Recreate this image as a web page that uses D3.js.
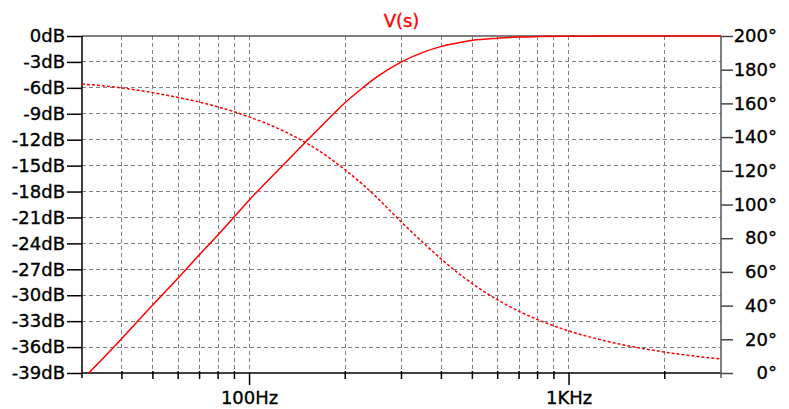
<!DOCTYPE html>
<html>
<head>
<meta charset="utf-8">
<script src="https://cdn.jsdelivr.net/npm/d3@7"></script>
<style>
  body { margin: 0; background: #fff; }
  svg { display: block; }
</style>
</head>
<body>
<div id="vis"></div>
<script>
// Frame and plot area
const FRAME_WIDTH = 789;
const FRAME_HEIGHT = 409;
const PLOT = {left: 82, right: 721, top: 36, bottom: 373};

// Data
const FREQS = [30, 40, 50, 60, 70, 80, 90, 100, 125, 150, 175, 200, 225, 250, 300,
               350, 400, 450, 500, 600, 700, 800, 1000, 1350, 2000, 3000];
const MAG_DB = [-39.8, -35.0, -31.1, -28.0, -25.3, -23.0, -20.9, -19.0, -15.3, -12.3,
                -9.8, -7.7, -6.1, -4.8, -3.0, -1.9, -1.2, -0.8, -0.5, -0.25, -0.12,
                -0.07, -0.03, -0.01, 0, 0];
const PHASE_DEG = [171.5, 169.2, 166.4, 163.5, 160.8, 157.9, 155, 152, 144.6, 136.8,
                   128.8, 120.5, 112.5, 104.5, 89.5, 77.5, 67.5, 59.5, 53, 43.4, 36.6,
                   31.7, 25, 18.4, 12.4, 8.3];

// Ticks and labels
const DB_TICKS = [0, -3, -6, -9, -12, -15, -18, -21, -24, -27, -30, -33, -36, -39];
const DEG_TICKS = [0, 20, 40, 60, 80, 100, 120, 140, 160, 180, 200];
const GRID_FREQS = [40, 50, 60, 70, 80, 90, 200, 300, 400, 500, 600, 700, 800, 900, 2000];
const MAJOR_FREQS = [100, 1000];
const MAJOR_LABELS = ["100Hz", "1KHz"];
const TITLE = "V(s)";

const FONT = "'DejaVu Sans', sans-serif";
const RED = "#ff0000";

const FRAME = d3.select("#vis")
  .append("svg")
    .attr("width", FRAME_WIDTH)
    .attr("height", FRAME_HEIGHT);

// Scales
const X_SCALE = d3.scaleLog().domain([30, 3000]).range([PLOT.left, PLOT.right]);
const Y_DB = d3.scaleLinear().domain([-39, 0]).range([PLOT.bottom, PLOT.top]);
const Y_DEG = d3.scaleLinear().domain([0, 200]).range([PLOT.bottom, PLOT.top]);

// Heavier text like the original screen font
function styleText(sel, color) {
  sel.attr("fill", color)
    .attr("stroke", color)
    .attr("stroke-width", 0.35)
    .style("font-family", FONT)
    .style("font-size", "18px");
}

// Grid (dashed gray)
const grid = FRAME.append("g")
  .attr("stroke", "#808080")
  .attr("stroke-width", 1)
  .attr("stroke-dasharray", "4,3")
  .attr("shape-rendering", "crispEdges");

grid.selectAll(".vgrid")
  .data(GRID_FREQS.concat(MAJOR_FREQS))
  .enter()
  .append("line")
    .attr("x1", (d) => { return X_SCALE(d); })
    .attr("x2", (d) => { return X_SCALE(d); })
    .attr("y1", PLOT.top)
    .attr("y2", PLOT.bottom);

grid.selectAll(".hgrid")
  .data(DB_TICKS.filter((d) => { return d < 0 && d > -39; }))
  .enter()
  .append("line")
    .attr("x1", PLOT.left)
    .attr("x2", PLOT.right)
    .attr("y1", (d) => { return Y_DB(d); })
    .attr("y2", (d) => { return Y_DB(d); });

// Top border
FRAME.append("line")
  .attr("x1", PLOT.left).attr("x2", PLOT.right)
  .attr("y1", PLOT.top).attr("y2", PLOT.top)
  .attr("stroke", "#555").attr("stroke-width", 1.5);

// Left axis (dB)
const leftAxis = FRAME.append("g")
  .attr("transform", "translate(" + PLOT.left + ",0)")
  .call(d3.axisLeft(Y_DB).tickValues(DB_TICKS).tickSize(15).tickPadding(2)
        .tickFormat((d) => { return d + "dB"; }));
leftAxis.select(".domain").remove();
leftAxis.selectAll("line").attr("stroke", "#000").attr("stroke-width", 1.5);
styleText(leftAxis.selectAll("text"), "#000");

// Right axis (degrees)
const rightAxis = FRAME.append("g")
  .attr("transform", "translate(" + PLOT.right + ",0)")
  .call(d3.axisRight(Y_DEG).tickValues(DEG_TICKS).tickSize(12)
        .tickFormat((d) => { return d + "°"; }));
rightAxis.select(".domain").remove();
rightAxis.selectAll("line").attr("stroke", "#444").attr("stroke-width", 1.5);
rightAxis.selectAll("text")
  .attr("x", 56)
  .attr("text-anchor", "end");
styleText(rightAxis.selectAll("text"), "#000");

// Bottom axis: major ticks with labels
const bottomAxis = FRAME.append("g")
  .attr("transform", "translate(0," + PLOT.bottom + ")")
  .call(d3.axisBottom(X_SCALE).tickValues(MAJOR_FREQS).tickSize(12).tickPadding(6)
        .tickFormat((d, i) => { return MAJOR_LABELS[i]; }));
bottomAxis.select(".domain").remove();
bottomAxis.selectAll("line").attr("stroke", "#000").attr("stroke-width", 1.5);
styleText(bottomAxis.selectAll("text"), "#000");

// Bottom axis: minor ticks
FRAME.append("g")
  .selectAll(".minor")
  .data(GRID_FREQS)
  .enter()
  .append("line")
    .attr("x1", (d) => { return X_SCALE(d); })
    .attr("x2", (d) => { return X_SCALE(d); })
    .attr("y1", PLOT.bottom - 2)
    .attr("y2", PLOT.bottom + 6)
    .attr("stroke", "#000")
    .attr("stroke-width", 1.5);

// Axis lines
FRAME.append("line")
  .attr("x1", PLOT.left).attr("x2", PLOT.right)
  .attr("y1", PLOT.bottom).attr("y2", PLOT.bottom)
  .attr("stroke", "#000").attr("stroke-width", 1.5);
FRAME.append("line")
  .attr("x1", PLOT.left).attr("x2", PLOT.left)
  .attr("y1", PLOT.top).attr("y2", PLOT.bottom + 5)
  .attr("stroke", "#000").attr("stroke-width", 1.5);
FRAME.append("line")
  .attr("x1", PLOT.right).attr("x2", PLOT.right)
  .attr("y1", PLOT.top).attr("y2", PLOT.bottom + 5)
  .attr("stroke", "#555").attr("stroke-width", 1.5);

// Clip curves to the plot area
FRAME.append("clipPath")
  .attr("id", "plot-clip")
  .append("rect")
    .attr("x", PLOT.left)
    .attr("y", PLOT.top - 1)
    .attr("width", PLOT.right - PLOT.left)
    .attr("height", PLOT.bottom - PLOT.top + 1);

// Phase curve (dotted)
const phaseLine = d3.line()
  .x((d, i) => { return X_SCALE(FREQS[i]); })
  .y((d) => { return Y_DEG(d); })
  .curve(d3.curveMonotoneX);

FRAME.append("path")
  .datum(PHASE_DEG)
  .attr("clip-path", "url(#plot-clip)")
  .attr("d", phaseLine)
  .attr("fill", "none")
  .attr("stroke", RED)
  .attr("stroke-width", 1.5)
  .attr("stroke-dasharray", "3,2");

// Magnitude curve (solid)
const magLine = d3.line()
  .x((d, i) => { return X_SCALE(FREQS[i]); })
  .y((d) => { return Y_DB(d); })
  .curve(d3.curveMonotoneX);

FRAME.append("path")
  .datum(MAG_DB)
  .attr("clip-path", "url(#plot-clip)")
  .attr("d", magLine)
  .attr("fill", "none")
  .attr("stroke", RED)
  .attr("stroke-width", 1.5);

// Title
const title = FRAME.append("text")
  .attr("x", (PLOT.left + PLOT.right) / 2)
  .attr("y", 27)
  .attr("text-anchor", "middle")
  .text(TITLE);
styleText(title, RED);
</script>
</body>
</html>
